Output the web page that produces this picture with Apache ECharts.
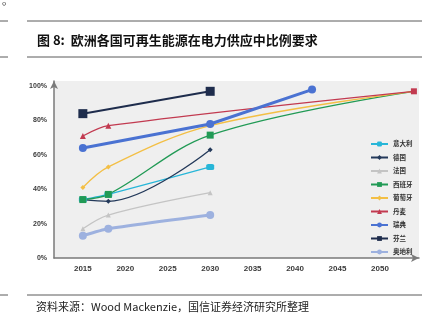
<!DOCTYPE html>
<html>
<head>
<meta charset="utf-8">
<script src="https://cdn.jsdelivr.net/npm/echarts@6/dist/echarts.min.js"></script>
<style>
  html, body { margin: 0; padding: 0; background: #ffffff; }
  #chart { width: 433px; height: 328px; }
</style>
</head>
<body>
<div id="chart"></div>
<script>
// Renewable share of power supply targets (%), by country and year
const countries = ['意大利', '德国', '法国', '西班牙', '葡萄牙', '丹麦', '瑞典', '芬兰', '奥地利'];

const italyYears = [2015, 2018, 2030];
const italyShare = [34, 37, 53];

const germanyYears = [2015, 2018, 2030];
const germanyShare = [34, 33, 63];

const franceYears = [2015, 2018, 2030];
const franceShare = [17, 25, 38];

const spainYears = [2015, 2018, 2030, 2054];
const spainShare = [34, 37, 71.5, 97];

const portugalYears = [2015, 2018, 2030, 2054];
const portugalShare = [41, 53, 77, 97];

const denmarkYears = [2015, 2018, 2054];
const denmarkShare = [71, 77, 97];

const swedenYears = [2015, 2030, 2042];
const swedenShare = [64, 78, 98];

const finlandYears = [2015, 2030];
const finlandShare = [84, 97];

const austriaYears = [2015, 2018, 2030];
const austriaShare = [13, 17, 25];

const xTickLabels = [2015, 2020, 2025, 2030, 2035, 2040, 2045, 2050];
const yTickLabels = [0, 20, 40, 60, 80, 100];

// Year of the shared long-term target where several curves meet
const finalYear = 2054;

function pairs(xs, ys, opts) {
  return xs.map((x, i) => {
    const item = { value: [x, ys[i]] };
    if (x === finalYear && opts.finalSymbol) {
      item.symbol = opts.finalSymbol;
      item.symbolSize = opts.finalSize;
    }
    return item;
  });
}

function lineSeries(name, xs, ys, color, symbol, symbolSize, width, smooth, opts) {
  return {
    name: name,
    type: 'line',
    data: pairs(xs, ys, opts || {}),
    smooth: smooth,
    symbol: symbol,
    symbolSize: symbolSize,
    showSymbol: true,
    lineStyle: { color: color, width: width },
    itemStyle: { color: color },
    emphasis: { disabled: true }
  };
}

const series = [
  lineSeries(countries[0], italyYears, italyShare, '#27b6d8', 'roundRect', [8, 6], 1.3, 0.2),
  lineSeries(countries[1], germanyYears, germanyShare, '#23395a', 'diamond', 5, 1.3, 0.35),
  lineSeries(countries[2], franceYears, franceShare, '#c4c4c4', 'triangle', 5, 1.3, 0.35),
  lineSeries(countries[3], spainYears, spainShare, '#219a55', 'rect', 7, 1.3, 0.35, { finalSymbol: 'none', finalSize: 0 }),
  lineSeries(countries[4], portugalYears, portugalShare, '#f3bf45', 'diamond', 5, 1.3, 0.35, { finalSymbol: 'none', finalSize: 0 }),
  lineSeries(countries[5], denmarkYears, denmarkShare, '#c23a50', 'triangle', 6, 1.3, 0.3, { finalSymbol: 'rect', finalSize: 6 }),
  lineSeries(countries[6], swedenYears, swedenShare, '#4a72d2', 'circle', 8, 3, false),
  lineSeries(countries[7], finlandYears, finlandShare, '#1e2c4c', 'rect', 9, 2, false),
  lineSeries(countries[8], austriaYears, austriaShare, '#9db1df', 'circle', 8, 3, 0.2)
];

const chart = echarts.init(document.getElementById('chart'), null, { renderer: 'canvas' });

chart.setOption({
  animation: false,
  backgroundColor: '#ffffff',
  grid: {
    left: 54,
    top: 81,
    width: 365,
    height: 177,
    show: true,
    backgroundColor: '#efefef',
    borderWidth: 0
  },
  xAxis: {
    type: 'value',
    min: 2011.6,
    max: 2054.6,
    splitLine: { show: false },
    axisTick: { show: false },
    axisLine: {
      show: true,
      lineStyle: { color: '#7a7a7a', width: 1.5 },
      symbol: ['none', 'arrow'],
      symbolSize: [6, 8]
    },
    axisLabel: {
      customValues: xTickLabels,
      formatter: (v) => String(v),
      margin: 7,
      color: '#3a3a3a',
      fontSize: 8,
      fontWeight: 'bold',
      fontFamily: 'Liberation Sans, Arial, sans-serif'
    }
  },
  yAxis: {
    type: 'value',
    min: 0,
    max: 103,
    splitLine: { show: false },
    axisTick: { show: false },
    axisLine: {
      show: true,
      lineStyle: { color: '#7a7a7a', width: 1.5 },
      symbol: ['none', 'arrow'],
      symbolSize: [6, 8]
    },
    axisLabel: {
      customValues: yTickLabels,
      formatter: (v) => v + '%',
      margin: 7,
      color: '#3a3a3a',
      fontSize: 7,
      fontWeight: 'bold',
      fontFamily: 'Liberation Sans, Arial, sans-serif'
    }
  },
  legend: {
    data: countries,
    orient: 'vertical',
    left: 370,
    top: 140.5,
    padding: 0,
    itemWidth: 17,
    itemHeight: 6,
    itemGap: 6.5,
    selectedMode: false,
    textStyle: {
      fontSize: 6.5,
      lineHeight: 7,
      fontWeight: 'bold',
      color: '#333333',
      fontFamily: 'Noto Sans CJK SC, sans-serif'
    }
  },
  graphic: [
    { type: 'text', left: 2, top: -5, style: { text: '。', fontSize: 11, fill: '#333', fontFamily: 'Noto Sans CJK SC' } },
    { type: 'line', shape: { x1: 0, y1: 21, x2: 8, y2: 21 }, style: { stroke: '#5a5a5a', lineWidth: 1 } },
    { type: 'line', shape: { x1: 27, y1: 21, x2: 422, y2: 21 }, style: { stroke: '#5a5a5a', lineWidth: 1 } },
    {
      type: 'text', left: 37, top: 34,
      style: {
        text: '图 8:  欧洲各国可再生能源在电力供应中比例要求',
        fontSize: 13, fontWeight: 'bold', fill: '#111111',
        fontFamily: 'Noto Sans CJK SC, sans-serif'
      }
    },
    { type: 'line', shape: { x1: 0, y1: 57, x2: 8, y2: 57 }, style: { stroke: '#5a5a5a', lineWidth: 1 } },
    { type: 'line', shape: { x1: 27, y1: 57, x2: 422, y2: 57 }, style: { stroke: '#5a5a5a', lineWidth: 1 } },
    { type: 'line', shape: { x1: 0, y1: 295, x2: 8, y2: 295 }, style: { stroke: '#5a5a5a', lineWidth: 1 } },
    { type: 'line', shape: { x1: 27, y1: 295, x2: 422, y2: 295 }, style: { stroke: '#5a5a5a', lineWidth: 1 } },
    {
      type: 'text', left: 36, top: 301,
      style: {
        text: '资料来源：Wood Mackenzie，国信证券经济研究所整理',
        fontSize: 11, fill: '#222222',
        fontFamily: 'Noto Sans CJK SC, sans-serif'
      }
    }
  ],
  series: series
});
</script>
</body>
</html>
